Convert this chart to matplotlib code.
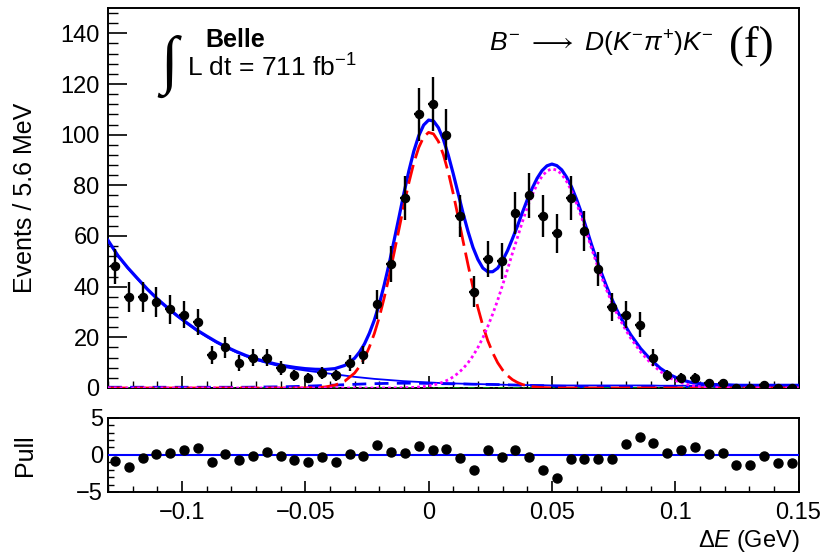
import numpy as np
import matplotlib
matplotlib.use("Agg")
import matplotlib.pyplot as plt
from matplotlib.ticker import MultipleLocator, FixedLocator, FuncFormatter

plt.rcParams['font.family'] = ['Liberation Sans', 'DejaVu Sans']
plt.rcParams['mathtext.fontset'] = 'custom'
plt.rcParams['mathtext.rm'] = 'Liberation Sans'
plt.rcParams['mathtext.it'] = 'Liberation Sans:italic'
plt.rcParams['mathtext.bf'] = 'Liberation Sans:bold'
plt.rcParams['mathtext.fallback'] = 'stixsans'

# ---------------- data ----------------
bin_lo, bin_hi, n_bins = -0.13, 0.15, 50
counts = [48, 36, 36, 34, 31, 29, 26, 13, 16, 10,
          12, 12, 8, 5, 4, 6, 5, 10, 13, 33,
          49, 75, 108, 112, 100, 68, 38, 51, 50, 69,
          76, 68, 61, 75, 62, 47, 32, 29, 25, 12,
          5, 4, 4, 2, 2, 0, 0, 1, 0, 0]
pulls = [-0.8, -1.6, -0.45, 0.1, 0.2, 0.7, 0.9, -1.0, 0.1, -0.7,
         -0.15, 0.35, -0.2, -0.75, -1.0, -0.3, -1.0, 0.1, -0.15, 1.35,
         0.45, 0.2, 1.2, 0.7, 0.75, -0.4, -2.0, 0.7, -0.3, 0.6,
         -0.3, -2.0, -3.1, -0.6, -0.6, -0.55, -0.55, 1.4, 2.4, 1.6,
         0.3, 0.6, 1.0, 0.15, 0.3, -1.35, -1.35, -0.2, -1.1, -1.1]

# fit curves: sample points every 4 MeV in the tails,
# every 2 MeV between -0.028 and 0.080 GeV
curve_x_left = [-0.130 + 0.004 * i for i in range(26)]     # -0.130 .. -0.030
curve_x_mid = [-0.028 + 0.002 * i for i in range(55)]      # -0.028 .. 0.080
curve_x_right = [0.082 + 0.004 * i for i in range(18)]     # 0.082 .. 0.150

total = [58.3, 52.3, 47.5, 43.2, 39.0, 35.2, 31.8, 28.6, 25.7, 22.9,
         20.5, 18.2, 16.2, 14.4, 12.8, 11.45, 10.4, 9.45, 8.7, 8.1,
         7.64, 7.39, 7.31, 7.65, 8.9, 11.75,
         14.2, 17.4, 21.65, 26.8, 33.1, 40.7, 49.0, 58.2, 67.45, 76.9,
         85.67, 93.45, 99.56, 103.8, 105.76, 105.4, 102.74, 98.1, 91.86, 84.55,
         76.75, 68.9, 61.77, 55.5, 50.73, 47.35, 45.88, 45.9, 47.3, 50.3,
         54.2, 58.9, 63.85, 69.2, 74.26, 78.8, 82.76, 85.8, 87.7, 88.4,
         87.78, 86.1, 83.15, 79.3, 74.48, 69.05, 63.03, 56.8, 51.08, 45.65,
         40.53, 35.8, 31.48, 27.65, 24.15,
         20.95, 15.55, 11.25, 7.75, 5.15, 3.4, 2.3, 1.7, 1.4, 1.3,
         1.2, 1.05, 1.05, 1.05, 1.05, 1.05, 1.05, 1.05]
signal = [0] * 20 + [0.04, 0.14, 0.41, 1.1, 2.7, 5.9] + [
          8.5, 11.8, 16.2, 21.5, 27.9, 35.6, 44.0, 53.3, 62.7, 72.2,
          81.0, 88.8, 94.9, 99.1, 100.9, 100.3, 97.3, 92.1, 85.1, 76.7,
          67.5, 57.9, 48.6, 39.7, 31.7, 24.6, 18.7, 13.9, 10.0, 7.1,
          4.9, 3.3, 2.2, 1.4, 0.86, 0.53, 0.31, 0.18, 0.1, 0.06] + [0] * 15 + [0] * 18
feed = [0] * 26 + [0] * 7 + [
        0.04, 0.06, 0.1, 0.17, 0.25, 0.38, 0.57, 0.83, 1.2, 1.69,
        2.4, 3.23, 4.4, 5.87, 7.7, 9.97, 12.7, 16.0, 19.8, 24.3,
        29.2, 34.6, 40.6, 46.8, 53.2, 59.3, 65.5, 71.2, 76.2, 80.4,
        83.6, 85.7, 86.5, 86.0, 84.4, 81.5, 77.7, 72.9, 67.5, 61.5,
        55.3, 49.6, 44.2, 39.1, 34.4, 30.1, 26.3, 22.8] + [
        19.6, 14.2, 9.9, 6.5, 3.9, 2.2, 1.1, 0.5, 0.2, 0.1] + [0] * 8
comb = [58.0, 52.0, 47.2, 42.9, 38.7, 34.9, 31.5, 28.3, 25.4, 22.6,
        20.2, 17.9, 15.9, 14.1, 12.5, 11.1, 10.0, 9.0, 8.2, 7.5,
        6.9, 6.4, 5.9, 5.4, 4.9, 4.4] + [
        4.2, 4.0, 3.8, 3.6, 3.45, 3.3, 3.15, 3.0, 2.85, 2.7,
        2.6, 2.5, 2.4, 2.3, 2.2, 2.1, 2.0, 1.9, 1.85, 1.8,
        1.75, 1.7, 1.65, 1.6, 1.55, 1.5, 1.45, 1.4, 1.35, 1.3,
        1.25, 1.2, 1.2, 1.2, 1.15, 1.1, 1.1, 1.1, 1.05, 1.0] + [1.0] * 15 + [
        1.0] * 3 + [0.9] * 8 + [0.8] * 7
peaking = [0.3] * 15 + [0.35, 0.4, 0.45, 0.5, 0.6, 0.7, 0.85, 1.0, 1.15, 1.3, 1.45] + [
           1.525, 1.6, 1.65, 1.7, 1.75, 1.8, 1.825, 1.85, 1.875, 1.9,
           1.9, 1.9, 1.875, 1.85, 1.825, 1.8, 1.75, 1.7, 1.675, 1.65,
           1.625, 1.6, 1.55, 1.5, 1.475, 1.45, 1.425, 1.4, 1.35, 1.3,
           1.25, 1.2, 1.15, 1.1, 1.05, 1.0, 0.95, 0.9, 0.85, 0.8,
           0.75, 0.7, 0.65, 0.6, 0.575, 0.55, 0.525, 0.5, 0.475, 0.45,
           0.425, 0.4, 0.375, 0.35, 0.35] + [0.35] * 5 + [0.3] * 6 + [0.25] * 7
other_bkg = [0.15] * 99

# ---------------- derived ----------------
width = (bin_hi - bin_lo) / n_bins
centers = bin_lo + width * (np.arange(n_bins) + 0.5)
counts_a = np.array(counts, dtype=float)
errs = np.sqrt(counts_a)
cx = np.array(curve_x_left + curve_x_mid + curve_x_right)
n = len(cx)
total, signal, feed, comb, peaking, other_bkg = [np.array(v[:n], dtype=float) for v in
                                                 (total, signal, feed, comb, peaking, other_bkg)]

# ---------------- figure ----------------
W, H = 833, 553
fig = plt.figure(figsize=(W / 100, H / 100), dpi=100)
ax = fig.add_axes([108 / W, (H - 388) / H, 690.5 / W, 380 / H])
axp = fig.add_axes([108 / W, (H - 492) / H, 690.5 / W, 74.3 / H])

blue, red, mag = '#0000ff', '#ff0000', '#ff00ff'

ax.plot(cx, total, color=blue, lw=2.3, zorder=3)
ax.plot(cx, comb, color=blue, lw=1.3, zorder=3)
ax.plot(cx, peaking, color=blue, lw=2.0, ls=(0, (5, 3)), zorder=3)
ax.plot(cx, other_bkg, color='#00a000', lw=1.2, ls=(0, (4, 2, 1, 2)), zorder=3)
ax.plot(cx, signal, color=red, lw=2.0, ls=(0, (7, 2.5)), zorder=4)
ax.plot(cx, feed, color=mag, lw=2.0, ls=(0, (1, 1.1)), zorder=4)

ax.errorbar(centers, counts_a, yerr=errs, xerr=0.0019, fmt='o', color='black',
            ms=5.8, elinewidth=1.7, capsize=0, zorder=5)

ax.set_xlim(bin_lo, bin_hi)
ax.set_ylim(0, 150)
ax.yaxis.set_major_locator(FixedLocator([0, 20, 40, 60, 80, 100, 120, 140]))
ax.yaxis.set_minor_locator(MultipleLocator(4))
ax.xaxis.set_major_locator(MultipleLocator(0.05))
ax.xaxis.set_minor_locator(MultipleLocator(0.01))
ax.tick_params(axis='both', which='both', direction='in', top=False, right=False)
ax.tick_params(axis='y', which='major', length=14, width=1.2, labelsize=17, pad=6)
ax.tick_params(axis='y', which='minor', length=7, width=1.0)
ax.tick_params(axis='x', which='major', length=9, width=1.2, labelbottom=False)
ax.tick_params(axis='x', which='minor', length=5, width=1.0)
ax.set_ylabel('Events / 5.6 MeV', fontsize=18)
ax.yaxis.set_label_coords(-0.103, 0.5)
for s in ax.spines.values():
    s.set_linewidth(1.4)

# annotations
fig.text(160 / W, 1 - 66 / H, '\u222b', fontsize=46, family=['Liberation Serif', 'DejaVu Sans'],
         va='center', ha='left')
fig.text(205 / W, 1 - 40 / H, 'Belle', fontsize=18, fontweight='bold', va='center', ha='left')
fig.text(187 / W, 1 - 68 / H, r'L dt = 711 fb$^{\mathregular{-1}}$', fontsize=19,
         va='center', ha='left')
fig.text(489 / W, 1 - 44 / H, r'$B^{-}\ \longrightarrow\ D(K^{-}\pi^{+})K^{-}$', fontsize=19,
         va='center', ha='left')
fig.text(729 / W, 1 - 46 / H, '(f)', fontsize=32, family='Liberation Serif',
         va='center', ha='left')

# pull panel
axp.plot(centers, pulls, 'o', color='black', ms=6.5, zorder=4)
axp.axhline(0, color=blue, lw=1.5, zorder=3)
axp.set_xlim(bin_lo, bin_hi)
axp.set_ylim(-5, 5)
axp.yaxis.set_major_locator(FixedLocator([-5, 0, 5]))
axp.yaxis.set_minor_locator(MultipleLocator(1))
axp.xaxis.set_major_locator(MultipleLocator(0.05))
axp.xaxis.set_minor_locator(MultipleLocator(0.01))
axp.tick_params(axis='both', which='both', direction='in', top=False, right=False)
axp.tick_params(axis='both', which='major', length=8, width=1.2, labelsize=17)
axp.tick_params(axis='x', which='major', pad=7)
axp.tick_params(axis='both', which='minor', length=4, width=1.0)
axp.xaxis.set_major_formatter(FuncFormatter(
    lambda v, p: ('%g' % round(v, 3)).replace('-', '\u2212')))
axp.set_ylabel('Pull', fontsize=18)
axp.yaxis.set_label_coords(-0.103, 0.5)
for s in axp.spines.values():
    s.set_linewidth(1.4)
fig.text(800 / W, 1 - 541 / H, r'$\Delta E$ (GeV)', fontsize=17, ha='right', va='center')

fig.savefig('out.png', dpi=100)
